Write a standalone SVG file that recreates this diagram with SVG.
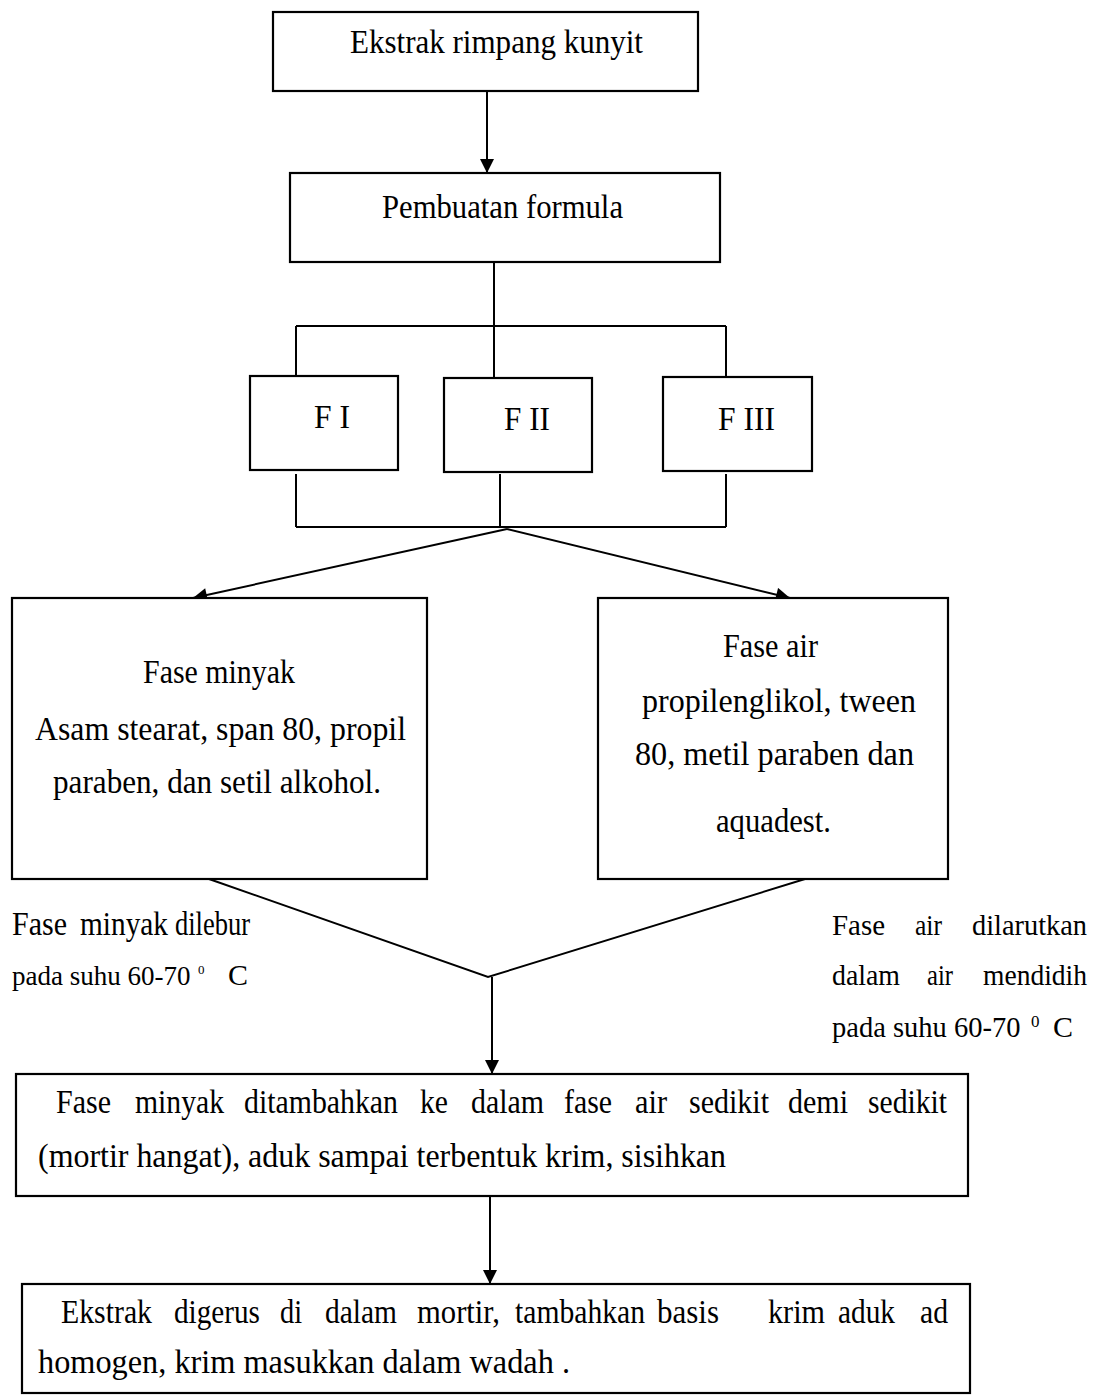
<svg xmlns="http://www.w3.org/2000/svg" width="1101" height="1398" viewBox="0 0 1101 1398">
<style>
.box{fill:#fff;stroke:#000;stroke-width:2.2}
.ln{fill:none;stroke:#000;stroke-width:2}
.t{font-family:"Liberation Serif","Times New Roman",serif;font-size:33px;fill:#000}
.r{font-size:30px}
.sup{font-family:"Liberation Serif","Times New Roman",serif;fill:#000}
</style>
<defs>
<marker id="ah" viewBox="0 0 10 10" refX="10" refY="5" markerWidth="15" markerHeight="14" markerUnits="userSpaceOnUse" orient="auto">
<path d="M0,0 L10,5 L0,10 z" fill="#000"/>
</marker>
</defs>
<rect width="1101" height="1398" fill="#fff"/>
<g id="connectors">
<line class="ln" x1="487" y1="91" x2="487" y2="173" marker-end="url(#ah)"/>
<line class="ln" x1="494" y1="262" x2="494" y2="326"/>
<line class="ln" x1="296" y1="326" x2="726" y2="326"/>
<line class="ln" x1="296" y1="326" x2="296" y2="376"/>
<line class="ln" x1="494" y1="326" x2="494" y2="378"/>
<line class="ln" x1="726" y1="326" x2="726" y2="377"/>
<line class="ln" x1="296" y1="474" x2="296" y2="527"/>
<line class="ln" x1="500" y1="474" x2="500" y2="527"/>
<line class="ln" x1="726" y1="474" x2="726" y2="527"/>
<line class="ln" x1="296" y1="527" x2="726" y2="527"/>
<line class="ln" x1="507" y1="529" x2="193" y2="598" stroke-width="2.4" marker-end="url(#ah)"/>
<line class="ln" x1="507" y1="529" x2="790" y2="598" stroke-width="2.4" marker-end="url(#ah)"/>
<polyline class="ln" stroke-width="1.6" points="209,879 488,977 805,879"/>
<line class="ln" x1="492" y1="977" x2="492" y2="1074" marker-end="url(#ah)"/>
<line class="ln" x1="490" y1="1196" x2="490" y2="1284" marker-end="url(#ah)"/>
</g>
<g id="n1">
<rect class="box" x="273" y="12" width="425" height="79"/>
<text class="t" x="350" y="53" textLength="293" lengthAdjust="spacingAndGlyphs">Ekstrak rimpang  kunyit</text>
</g>
<g id="n2">
<rect class="box" x="290" y="173" width="430" height="89"/>
<text class="t" x="382" y="218" textLength="241" lengthAdjust="spacingAndGlyphs">Pembuatan  formula</text>
</g>
<g id="f1">
<rect class="box" x="250" y="376" width="148" height="94"/>
<text class="t" x="314" y="428" textLength="36" lengthAdjust="spacingAndGlyphs">F I</text>
</g>
<g id="f2">
<rect class="box" x="444" y="378" width="148" height="94"/>
<text class="t" x="504" y="430" textLength="46" lengthAdjust="spacingAndGlyphs">F II</text>
</g>
<g id="f3">
<rect class="box" x="663" y="377" width="149" height="94"/>
<text class="t" x="718" y="430" textLength="57" lengthAdjust="spacingAndGlyphs">F III</text>
</g>
<g id="minyak">
<rect class="box" x="12" y="598" width="415" height="281"/>
<text class="t" x="143" y="683" textLength="152" lengthAdjust="spacingAndGlyphs">Fase minyak</text>
<text class="t" x="35" y="740" textLength="371" lengthAdjust="spacingAndGlyphs">Asam stearat, span 80, propil</text>
<text class="t" x="53" y="793" textLength="328" lengthAdjust="spacingAndGlyphs">paraben, dan setil alkohol.</text>
</g>
<g id="air">
<rect class="box" x="598" y="598" width="350" height="281"/>
<text class="t" x="723" y="657" textLength="95" lengthAdjust="spacingAndGlyphs">Fase air</text>
<text class="t" x="642" y="712" textLength="274" lengthAdjust="spacingAndGlyphs">propilenglikol,  tween</text>
<text class="t" x="635" y="765" textLength="279" lengthAdjust="spacingAndGlyphs">80, metil  paraben dan</text>
<text class="t" x="716" y="832" textLength="115" lengthAdjust="spacingAndGlyphs">aquadest.</text>
</g>
<g id="label-left">
<text class="t" y="935"><tspan x="12" textLength="55" lengthAdjust="spacingAndGlyphs">Fase</tspan> <tspan x="80" textLength="88" lengthAdjust="spacingAndGlyphs">minyak</tspan> <tspan x="175" textLength="75" lengthAdjust="spacingAndGlyphs">dilebur</tspan></text>
<text class="t" y="985"><tspan x="12" font-size="27">pada suhu 60-70</tspan> <tspan class="sup" x="198" y="974" font-size="13">0</tspan> <tspan x="228" y="985" font-size="30">C</tspan></text>
</g>
<g id="label-right">
<text class="t r" y="935"><tspan x="832" textLength="53" lengthAdjust="spacingAndGlyphs">Fase</tspan> <tspan x="915" textLength="27" lengthAdjust="spacingAndGlyphs">air</tspan> <tspan x="972" textLength="115" lengthAdjust="spacingAndGlyphs">dilarutkan</tspan></text>
<text class="t r" y="985"><tspan x="832" textLength="68" lengthAdjust="spacingAndGlyphs">dalam</tspan> <tspan x="927" textLength="26" lengthAdjust="spacingAndGlyphs">air</tspan> <tspan x="983" textLength="104" lengthAdjust="spacingAndGlyphs">mendidih</tspan></text>
<text class="t" y="1037"><tspan x="832" font-size="28.5">pada suhu 60-70</tspan> <tspan class="sup" x="1031" y="1027" font-size="17">0</tspan> <tspan x="1053" y="1037" font-size="30">C</tspan></text>
</g>
<g id="n4">
<rect class="box" x="16" y="1074" width="952" height="122"/>
<text class="t" y="1113"><tspan x="56" textLength="55" lengthAdjust="spacingAndGlyphs">Fase</tspan> <tspan x="135" textLength="89" lengthAdjust="spacingAndGlyphs">minyak</tspan> <tspan x="244" textLength="154" lengthAdjust="spacingAndGlyphs">ditambahkan</tspan> <tspan x="420" textLength="28" lengthAdjust="spacingAndGlyphs">ke</tspan> <tspan x="471" textLength="73" lengthAdjust="spacingAndGlyphs">dalam</tspan> <tspan x="564" textLength="48" lengthAdjust="spacingAndGlyphs">fase</tspan> <tspan x="635" textLength="32" lengthAdjust="spacingAndGlyphs">air</tspan> <tspan x="689" textLength="80" lengthAdjust="spacingAndGlyphs">sedikit</tspan> <tspan x="788" textLength="60" lengthAdjust="spacingAndGlyphs">demi</tspan> <tspan x="868" textLength="79" lengthAdjust="spacingAndGlyphs">sedikit</tspan></text>
<text class="t" x="38" y="1167" textLength="688" lengthAdjust="spacingAndGlyphs">(mortir  hangat),  aduk sampai terbentuk krim,  sisihkan</text>
</g>
<g id="n5">
<rect class="box" x="22" y="1284" width="948" height="109"/>
<text class="t" y="1323"><tspan x="61" textLength="91" lengthAdjust="spacingAndGlyphs">Ekstrak</tspan> <tspan x="174" textLength="86" lengthAdjust="spacingAndGlyphs">digerus</tspan> <tspan x="280" textLength="22" lengthAdjust="spacingAndGlyphs">di</tspan> <tspan x="325" textLength="72" lengthAdjust="spacingAndGlyphs">dalam</tspan> <tspan x="417" textLength="83" lengthAdjust="spacingAndGlyphs">mortir,</tspan> <tspan x="515" textLength="130" lengthAdjust="spacingAndGlyphs">tambahkan</tspan> <tspan x="657" textLength="62" lengthAdjust="spacingAndGlyphs">basis</tspan> <tspan x="768" textLength="57" lengthAdjust="spacingAndGlyphs">krim</tspan> <tspan x="838" textLength="57" lengthAdjust="spacingAndGlyphs">aduk</tspan> <tspan x="920" textLength="28" lengthAdjust="spacingAndGlyphs">ad</tspan></text>
<text class="t" x="38" y="1373" textLength="532" lengthAdjust="spacingAndGlyphs">homogen,  krim masukkan dalam wadah .</text>
</g>
</svg>
